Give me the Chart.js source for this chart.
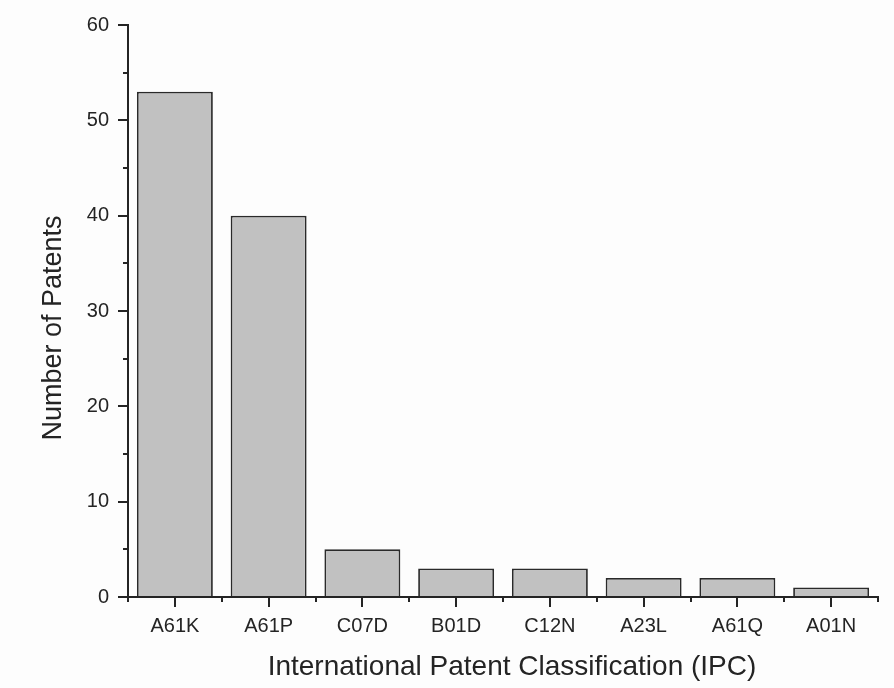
<!DOCTYPE html>
<html>
<head>
<meta charset="utf-8">
<script src="https://cdn.jsdelivr.net/npm/chart.js@4/dist/chart.umd.min.js"></script>
<style>
  html, body { margin: 0; padding: 0; background: #fdfdfd; }
  #wrap { width: 894px; height: 688px; }
</style>
</head>
<body>
<div id="wrap"><canvas id="c" width="894" height="688"></canvas></div>
<script>
// IPC classes and number of patents in each
const categories = ['A61K', 'A61P', 'C07D', 'B01D', 'C12N', 'A23L', 'A61Q', 'A01N'];
const patentCounts = [53, 40, 5, 3, 3, 2, 2, 1];
const yTicks = [0, 10, 20, 30, 40, 50, 60];
const yMinorTicks = [5, 15, 25, 35, 45, 55];

const xTitle = 'International Patent Classification (IPC)';
const yTitle = 'Number of Patents';

const inkColor = '#242424';
const fontFamily = 'Arial, "Liberation Sans", sans-serif';
const labelFont = { family: fontFamily, size: 20 };

// Short minor ticks (y at the half steps, x at the category boundaries) and axis titles
const axisExtras = {
  id: 'axisExtras',
  afterDraw(chart) {
    const { ctx, chartArea, scales } = chart;
    const x = scales.x, y = scales.y;
    ctx.save();
    ctx.strokeStyle = inkColor;
    ctx.lineWidth = 2;
    ctx.beginPath();
    yMinorTicks.forEach(v => {
      const py = Math.round(y.getPixelForValue(v));
      ctx.moveTo(chartArea.left, py);
      ctx.lineTo(chartArea.left - 5, py);
    });
    const step = x.getPixelForValue(1) - x.getPixelForValue(0);
    for (let i = 0; i <= categories.length; i++) {
      const px = Math.round(x.getPixelForValue(0) - step / 2 + i * step);
      ctx.moveTo(px, chartArea.bottom);
      ctx.lineTo(px, chartArea.bottom + 5);
    }
    ctx.stroke();

    ctx.fillStyle = inkColor;
    ctx.textAlign = 'center';
    ctx.textBaseline = 'middle';
    ctx.font = `28px ${fontFamily}`;
    ctx.fillText(xTitle, (chartArea.left + chartArea.right) / 2 + 9, 667);
    ctx.font = `27px ${fontFamily}`;
    ctx.translate(54, (chartArea.top + chartArea.bottom) / 2 + 17);
    ctx.rotate(-Math.PI / 2);
    ctx.fillText(yTitle, 0, 0);
    ctx.restore();
  }
};

new Chart(document.getElementById('c'), {
  type: 'bar',
  data: {
    labels: categories,
    datasets: [{
      data: patentCounts,
      backgroundColor: '#c1c1c1',
      borderColor: '#2a2a2a',
      borderWidth: 1.8,
      borderSkipped: 'bottom',
      categoryPercentage: 1.0,
      barPercentage: 0.81
    }]
  },
  options: {
    responsive: false,
    animation: false,
    devicePixelRatio: 1,
    layout: { padding: { top: 25, right: 16, bottom: 0, left: 0 } },
    plugins: { legend: { display: false }, tooltip: { enabled: false } },
    scales: {
      x: {
        offset: true,
        grid: { offset: false, drawOnChartArea: false, drawTicks: true, tickLength: 10, tickColor: inkColor, lineWidth: 2 },
        border: { display: true, color: inkColor, width: 2 },
        ticks: { color: inkColor, font: labelFont, padding: 7, maxRotation: 0 },
        afterFit(scale) { scale.height = 91; }
      },
      y: {
        min: 0,
        max: 60,
        afterBuildTicks(scale) { scale.ticks = yTicks.map(v => ({ value: v })); },
        grid: { drawOnChartArea: false, drawTicks: true, tickLength: 10, tickColor: inkColor, lineWidth: 2 },
        border: { display: true, color: inkColor, width: 2 },
        ticks: { color: inkColor, font: labelFont, padding: 9 },
        afterFit(scale) { scale.width = 128; }
      }
    }
  },
  plugins: [axisExtras]
});
</script>
</body>
</html>
